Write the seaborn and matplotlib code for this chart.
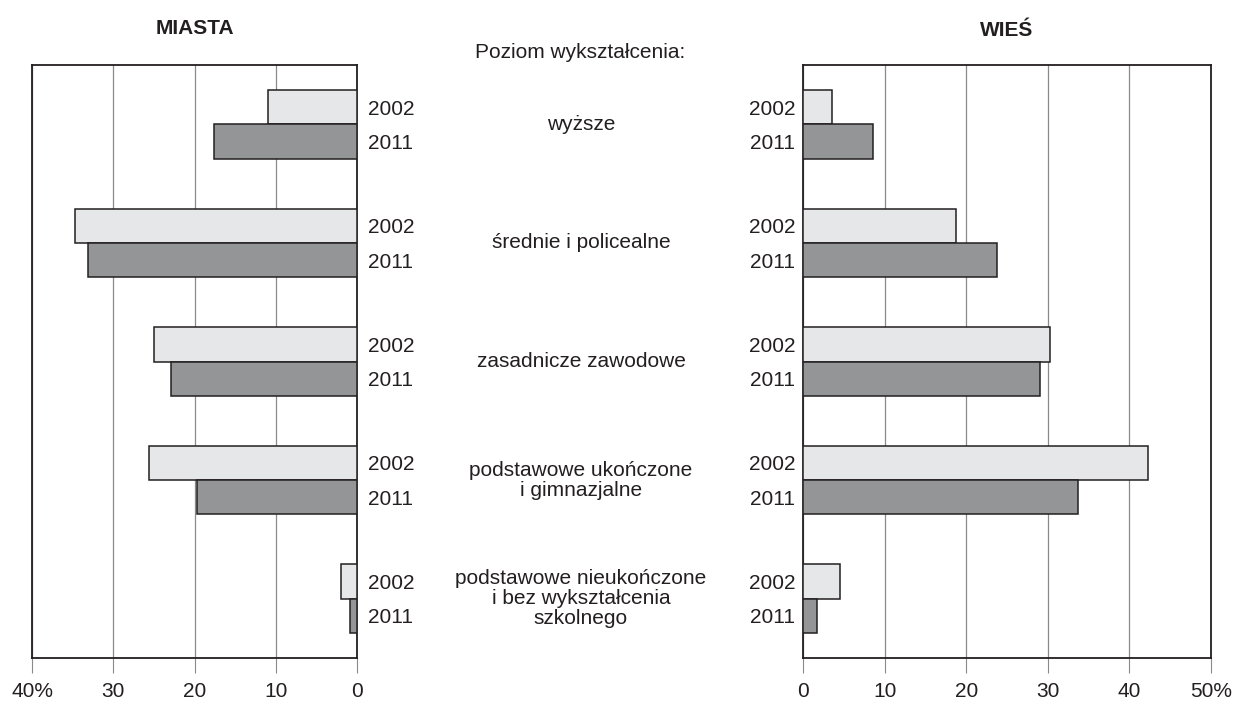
import pandas as pd
import matplotlib.pyplot as plt
import matplotlib.transforms as mtransforms
import seaborn as sns

# =========================
# Data (percent of population by education level)
# =========================
categories = [
    "wyższe",
    "średnie i policealne",
    "zasadnicze zawodowe",
    "podstawowe ukończone\ni gimnazjalne",
    "podstawowe nieukończone\ni bez wykształcenia\nszkolnego",
]
years = ["2002", "2011"]
miasta_2002 = [11.0, 34.7, 25.0, 25.6, 2.0]
miasta_2011 = [17.6, 33.1, 22.9, 19.7, 0.9]
wies_2002 = [3.6, 18.8, 30.3, 42.3, 4.5]
wies_2011 = [8.6, 23.8, 29.1, 33.7, 1.7]
left_ticks = [40, 30, 20, 10, 0]
right_ticks = [0, 10, 20, 30, 40, 50]

COLORS = {"2002": "#e6e7e8", "2011": "#939598"}
EDGE = "#231f20"
FONT = ["Liberation Sans", "DejaVu Sans"]
FS = 15


def long_frame(v2002, v2011):
    rows = []
    for cat, a, b in zip(categories, v2002, v2011):
        rows.append({"cat": cat, "year": "2002", "value": a})
        rows.append({"cat": cat, "year": "2011", "value": b})
    return pd.DataFrame(rows)


df_m = long_frame(miasta_2002, miasta_2011)
df_w = long_frame(wies_2002, wies_2011)

sns.set_style("white")
plt.rcParams["font.family"] = FONT
plt.rcParams["font.size"] = FS
plt.rcParams["text.color"] = EDGE
plt.rcParams["xtick.labelcolor"] = EDGE
plt.rcParams["ytick.labelcolor"] = EDGE

fig = plt.figure(figsize=(12.43, 7.08), dpi=100)
ax_l = fig.add_axes([32 / 1243, 50 / 708, 325 / 1243, 593 / 708])
ax_r = fig.add_axes([803 / 1243, 50 / 708, 408 / 1243, 593 / 708])


def draw(ax, df, xlim, ticks, fmt_last):
    sns.barplot(data=df, x="value", y="cat", hue="year", order=categories,
                hue_order=years, palette=COLORS, orient="h", width=0.58,
                gap=0, edgecolor=EDGE, linewidth=1.1, legend=False, ax=ax,
                zorder=3)
    ax.set_xlim(*xlim)
    ax.set_ylim(len(categories) - 0.5, -0.5)
    ax.set_xticks(ticks)
    labels = [str(t) for t in ticks]
    labels[ticks.index(max(ticks))] = fmt_last
    ax.set_xticklabels(labels)
    ax.xaxis.grid(True, color="#8a8a8a", linewidth=0.9, zorder=0)
    ax.set_axisbelow(True)
    ax.tick_params(axis="x", direction="out", length=11, width=0.8,
                   color="#8a8a8a", pad=6, labelsize=FS, bottom=True)
    ypos, ylab = [], []
    for i in range(len(categories)):
        ypos += [i - 0.145, i + 0.145]
        ylab += years
    ax.set_yticks(ypos)
    ax.set_yticklabels(ylab)
    ax.set_xlabel("")
    ax.set_ylabel("")
    for s in ax.spines.values():
        s.set_visible(True)
        s.set_color(EDGE)
        s.set_linewidth(1.3)


draw(ax_l, df_m, (40, 0), left_ticks, "40%")
ax_l.tick_params(axis="y", left=False, right=False, labelleft=False,
                 labelright=True, pad=4.5, labelsize=FS)
draw(ax_r, df_w, (0, 50), right_ticks, "50%")
ax_r.tick_params(axis="y", left=False, right=False, labelleft=True,
                 labelright=False, pad=2, labelsize=FS)

ax_l.set_title("MIASTA", fontweight="bold", fontsize=FS, pad=22)
ax_r.set_title("WIEŚ", fontweight="bold", fontsize=FS, pad=21)

# Centre column: category names
blend = mtransforms.blended_transform_factory(fig.transFigure, ax_l.transData)
for i, cat in enumerate(categories):
    ax_l.text(581 / 1243, i, cat, transform=blend, ha="center", va="center",
              fontsize=FS, linespacing=1.08, clip_on=False)
fig.text(580 / 1243, 1 - 52 / 708, "Poziom wykształcenia:", ha="center",
         va="center", fontsize=FS)

fig.savefig("out.png", dpi=100)
